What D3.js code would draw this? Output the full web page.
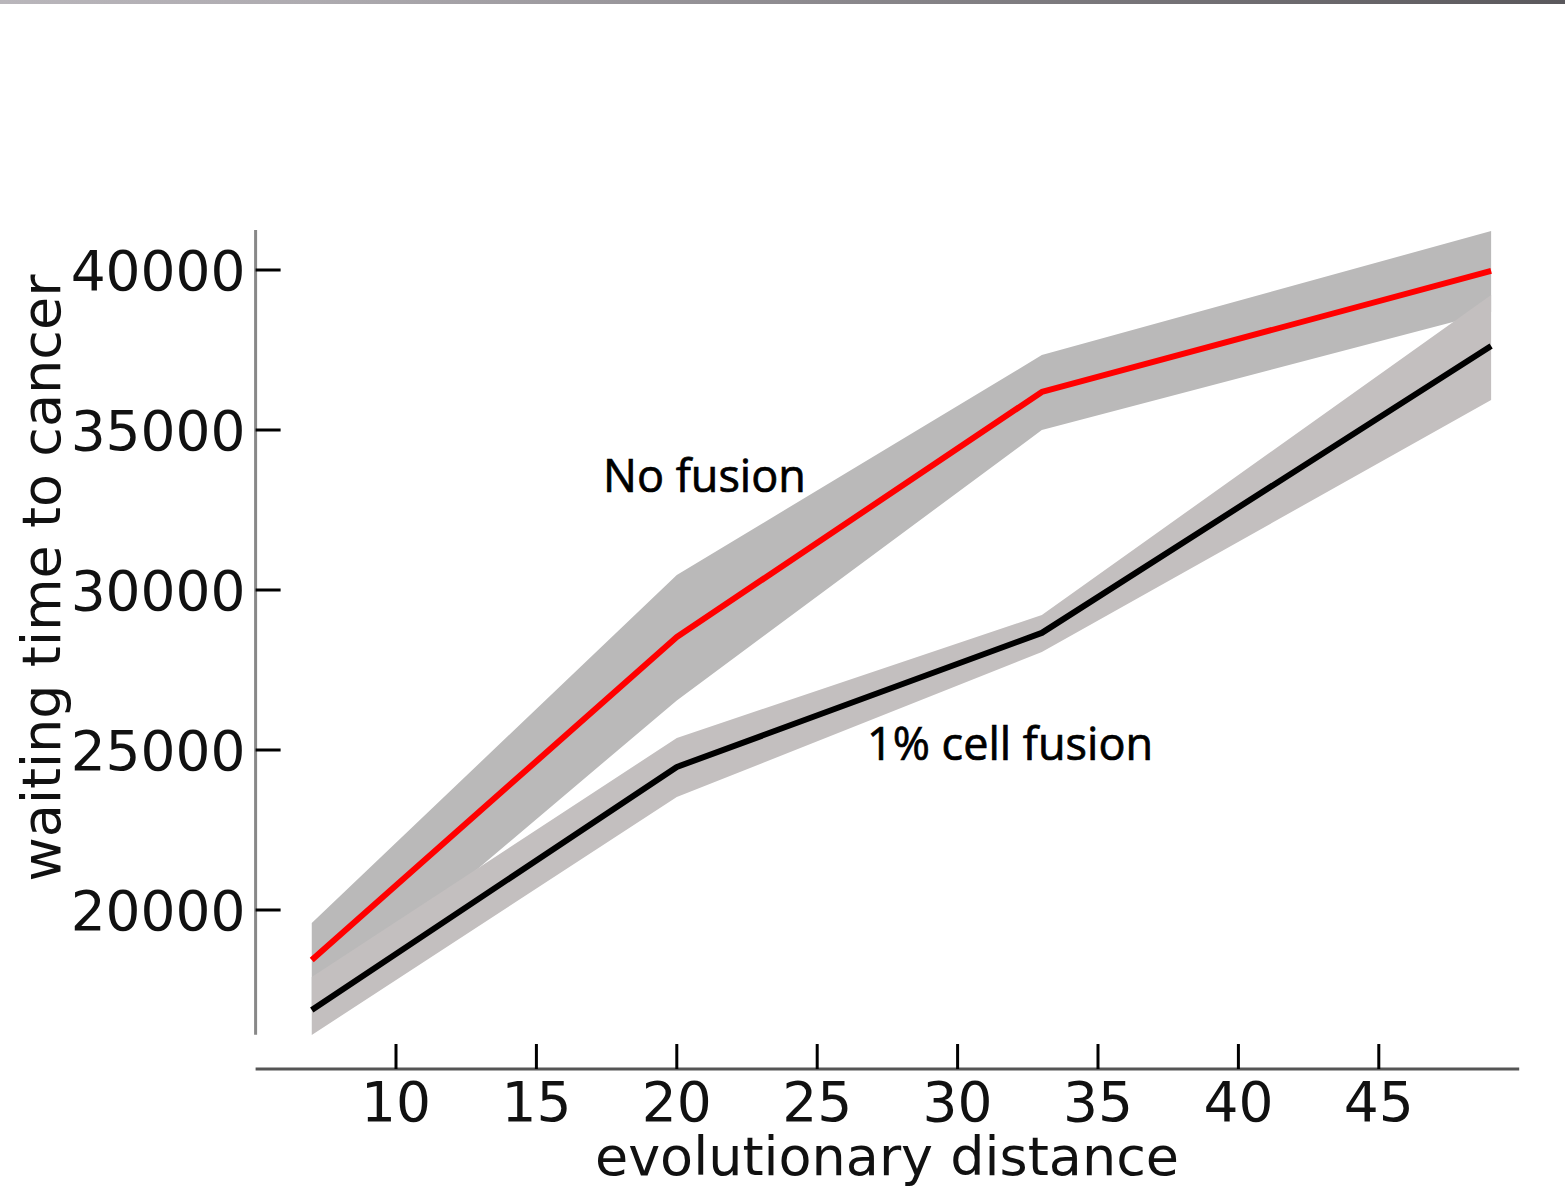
<!DOCTYPE html>
<html>
<head>
<meta charset="utf-8">
<script src="https://cdn.jsdelivr.net/npm/d3@7"></script>
<style>
    body { margin: 0; background: #fff; }
    #chart { width: 1565px; height: 1188px; }
    .tick-label { font-family: "DejaVu Sans", sans-serif; font-size: 55px; fill: #111; }
    .axis-title { font-family: "DejaVu Sans", sans-serif; font-size: 54px; fill: #111; }
    .note { font-family: "Open Sans", sans-serif; font-size: 45px; fill: #000; stroke: #000; stroke-width: 0.7px; }
</style>
</head>
<body>
<div id="chart"></div>
<script>
// evolutionary distance (x)
const distance = [7, 20, 33, 49];

// no fusion: mean and shaded range
const noFusionMean = [18440, 28530, 36190, 39970];
const noFusionLow  = [16900, 26550, 35000, 38690];
const noFusionHigh = [19590, 30470, 37340, 41220];

// 1% cell fusion: mean and shaded range
const fusionMean = [16875, 24470, 28660, 37625];
const fusionLow  = [16094, 23530, 28060, 35940];
const fusionHigh = [17906, 25375, 29220, 39220];

const xTicks = [10, 15, 20, 25, 30, 35, 40, 45];
const yTicks = [20000, 25000, 30000, 35000, 40000];

const W = 1565, H = 1188;

const svg = d3.select("#chart").append("svg")
    .attr("width", W)
    .attr("height", H);

// grey strip along the top
const grad = svg.append("defs").append("linearGradient")
    .attr("id", "topbar")
    .attr("x1", "0%").attr("x2", "100%");
grad.append("stop").attr("offset", "0%").attr("stop-color", "#b9b6bb");
grad.append("stop").attr("offset", "20%").attr("stop-color", "#aeabb0");
grad.append("stop").attr("offset", "100%").attr("stop-color", "#5a585c");
svg.append("rect")
    .attr("x", 0).attr("y", 0)
    .attr("width", W).attr("height", 4)
    .attr("fill", "url(#topbar)");

// scales
const x = d3.scaleLinear().domain([5, 50]).range([255.6, 1519.2]);
const y = d3.scaleLinear().domain([16100, 41250]).range([1034.8, 230]);
const xAxisY = 1069;

const band = (lo, hi) => d3.area()
    .x((d, i) => x(distance[i]))
    .y0((d, i) => y(lo[i]))
    .y1((d, i) => y(hi[i]));

const line = (vals) => d3.line()
    .x((d, i) => x(distance[i]))
    .y((d, i) => y(vals[i]));

// shaded ranges
svg.append("path")
    .attr("d", band(noFusionLow, noFusionHigh)(distance))
    .attr("fill", "#bab9b9");
svg.append("path")
    .attr("d", band(fusionLow, fusionHigh)(distance))
    .attr("fill", "#c3bfbf");

// mean lines
svg.append("path")
    .attr("d", line(noFusionMean)(distance))
    .attr("fill", "none")
    .attr("stroke", "#ff0000")
    .attr("stroke-width", 6)
    .attr("stroke-linejoin", "round");
svg.append("path")
    .attr("d", line(fusionMean)(distance))
    .attr("fill", "none")
    .attr("stroke", "#000")
    .attr("stroke-width", 6)
    .attr("stroke-linejoin", "round");

// y axis
const yAxis = svg.append("g");
yAxis.append("line")
    .attr("x1", x(5)).attr("x2", x(5))
    .attr("y1", y(41250)).attr("y2", y(16100))
    .attr("stroke", "#888").attr("stroke-width", 3);
yAxis.selectAll(".ytick")
    .data(yTicks)
    .enter()
    .append("line")
    .attr("x1", x(5)).attr("x2", x(5) + 25)
    .attr("y1", d => y(d)).attr("y2", d => y(d))
    .attr("stroke", "#000").attr("stroke-width", 3);
yAxis.selectAll(".ylab")
    .data(yTicks)
    .enter()
    .append("text")
    .attr("class", "tick-label")
    .attr("x", x(5) - 10)
    .attr("y", d => y(d))
    .attr("dy", "0.36em")
    .attr("text-anchor", "end")
    .text(d => d);

// x axis
const xAxis = svg.append("g");
xAxis.append("line")
    .attr("x1", x(5)).attr("x2", x(50))
    .attr("y1", xAxisY).attr("y2", xAxisY)
    .attr("stroke", "#555").attr("stroke-width", 3);
xAxis.selectAll(".xtick")
    .data(xTicks)
    .enter()
    .append("line")
    .attr("x1", d => x(d)).attr("x2", d => x(d))
    .attr("y1", xAxisY).attr("y2", xAxisY - 25)
    .attr("stroke", "#000").attr("stroke-width", 3);
xAxis.selectAll(".xlab")
    .data(xTicks)
    .enter()
    .append("text")
    .attr("class", "tick-label")
    .attr("x", d => x(d))
    .attr("y", 1121)
    .attr("text-anchor", "middle")
    .text(d => d);

// axis titles
svg.append("text")
    .attr("class", "axis-title")
    .attr("x", 887)
    .attr("y", 1175)
    .attr("text-anchor", "middle")
    .text("evolutionary distance");
svg.append("text")
    .attr("class", "axis-title")
    .attr("transform", "translate(60, 578) rotate(-90)")
    .attr("text-anchor", "middle")
    .text("waiting time to cancer");

// annotations
svg.append("text")
    .attr("class", "note")
    .attr("x", 603)
    .attr("y", 492)
    .text("No fusion");
svg.append("text")
    .attr("class", "note")
    .attr("x", 867)
    .attr("y", 760)
    .text("1% cell fusion");
</script>
</body>
</html>
